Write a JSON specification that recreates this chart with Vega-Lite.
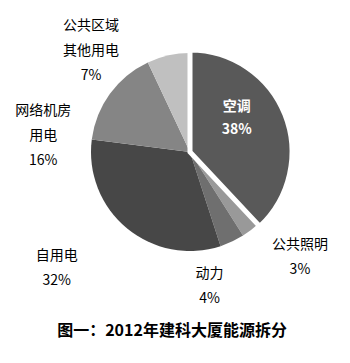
{
  "$schema": "https://vega.github.io/schema/vega-lite/v6.json",
  "width": 198,
  "height": 198,
  "autosize": "none",
  "padding": {"left": 91, "top": 53, "right": 61, "bottom": 112},
  "background": "white",
  "config": {"view": {"stroke": null}, "font": "Noto Sans CJK SC"},
  "title": {
    "text": "图一：2012年建科大厦能源拆分",
    "orient": "bottom",
    "anchor": "middle",
    "fontSize": 16,
    "fontWeight": "bold",
    "color": "#000000",
    "font": "Noto Sans CJK SC",
    "offset": 17,
    "dx": -18
  },
  "data": {
    "values": [
      {"name": "空调", "label": "空调\n38%", "value": 38, "order": 1},
      {"name": "公共照明", "label": "公共照明\n3%", "value": 3, "order": 2},
      {"name": "动力", "label": "动力\n4%", "value": 4, "order": 3},
      {"name": "自用电", "label": "自用电\n32%", "value": 32, "order": 4},
      {"name": "网络机房用电", "label": "网络机房\n用电\n16%", "value": 16, "order": 5},
      {"name": "公共区域其他用电", "label": "公共区域\n其他用电\n7%", "value": 7, "order": 6}
    ]
  },
  "transform": [
    {"stack": "value", "groupby": [], "sort": [{"field": "order"}], "as": ["v0", "v1"]},
    {"calculate": "(datum.v0 + datum.v1) / 2", "as": "mid"}
  ],
  "layer": [
    {
      "mark": {"type": "arc", "radius": 99},
      "encoding": {
        "theta": {"field": "v0", "type": "quantitative", "scale": {"domain": [0, 100]}},
        "theta2": {"field": "v1"},
        "color": {
          "field": "name",
          "type": "nominal",
          "legend": null,
          "scale": {
            "domain": ["空调", "公共照明", "动力", "自用电", "网络机房用电", "公共区域其他用电"],
            "range": ["#595959", "#999999", "#6f6f6f", "#474747", "#858585", "#c0c0c0"]
          }
        }
      }
    },
    {
      "transform": [{"filter": "datum.name === '空调'"}],
      "mark": {"type": "arc", "radius": 102, "stroke": "#ffffff", "strokeWidth": 5, "strokeJoin": "miter"},
      "encoding": {
        "theta": {"field": "v0", "type": "quantitative"},
        "theta2": {"field": "v1"},
        "color": {"field": "name", "type": "nominal", "legend": null}
      }
    },
    {
      "transform": [{"filter": "datum.name === '空调'"}],
      "mark": {"type": "text", "radius": 60, "dx": -9, "dy": -23, "fontSize": 14, "fontWeight": "bold", "lineHeight": 23, "lineBreak": "\n", "align": "center", "baseline": "middle", "color": "#ffffff"},
      "encoding": {"theta": {"field": "mid", "type": "quantitative"}, "text": {"field": "label"}}
    },
    {
      "transform": [{"filter": "datum.name === '公共照明'"}],
      "mark": {"type": "text", "radius": 150, "dx": 18, "dy": -26, "fontSize": 14, "lineHeight": 25, "lineBreak": "\n", "align": "center", "baseline": "middle", "color": "#000000"},
      "encoding": {"theta": {"field": "mid", "type": "quantitative"}, "text": {"field": "label"}}
    },
    {
      "transform": [{"filter": "datum.name === '动力'"}],
      "mark": {"type": "text", "radius": 135, "dx": -38, "dy": 0, "fontSize": 14, "lineHeight": 25, "lineBreak": "\n", "align": "center", "baseline": "middle", "color": "#000000"},
      "encoding": {"theta": {"field": "mid", "type": "quantitative"}, "text": {"field": "label"}}
    },
    {
      "transform": [{"filter": "datum.name === '自用电'"}],
      "mark": {"type": "text", "radius": 170, "dx": -25, "dy": -27, "fontSize": 14, "lineHeight": 25, "lineBreak": "\n", "align": "center", "baseline": "middle", "color": "#000000"},
      "encoding": {"theta": {"field": "mid", "type": "quantitative"}, "text": {"field": "label"}}
    },
    {
      "transform": [{"filter": "datum.name === '网络机房用电'"}],
      "mark": {"type": "text", "radius": 148, "dx": -27, "dy": 46, "fontSize": 14, "lineHeight": 25, "lineBreak": "\n", "align": "center", "baseline": "middle", "color": "#000000"},
      "encoding": {"theta": {"field": "mid", "type": "quantitative"}, "text": {"field": "label"}}
    },
    {
      "transform": [{"filter": "datum.name === '公共区域其他用电'"}],
      "mark": {"type": "text", "radius": 142, "dx": -68, "dy": 13, "fontSize": 14, "lineHeight": 25, "lineBreak": "\n", "align": "center", "baseline": "middle", "color": "#000000"},
      "encoding": {"theta": {"field": "mid", "type": "quantitative"}, "text": {"field": "label"}}
    }
  ]
}
